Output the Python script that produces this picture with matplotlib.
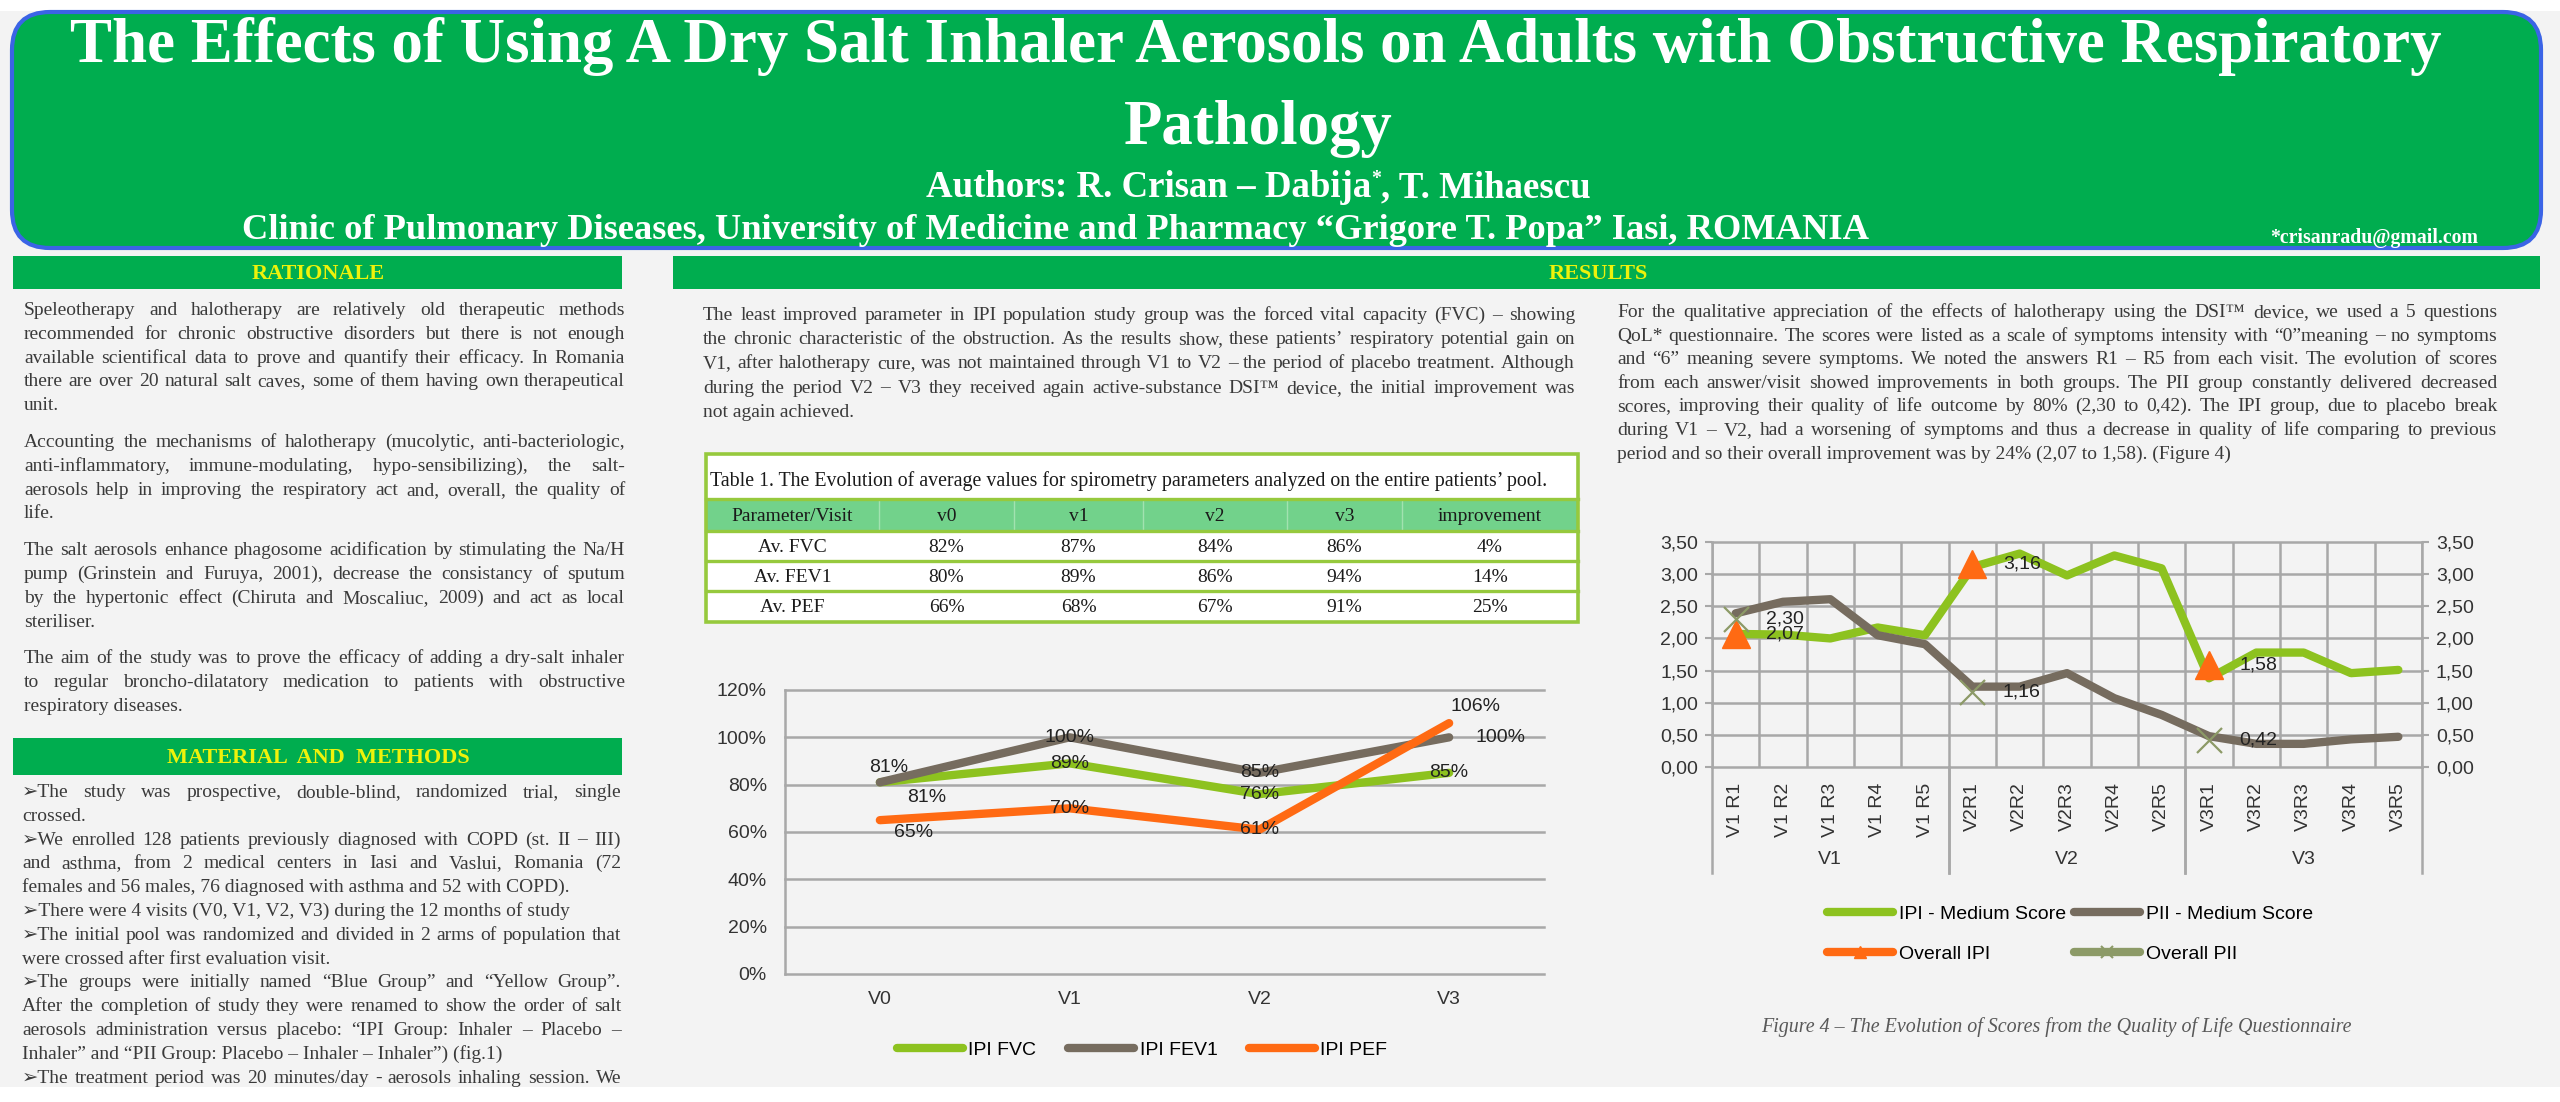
import matplotlib
matplotlib.use('Agg')
import matplotlib.pyplot as plt
import matplotlib.transforms as mtransforms
from matplotlib.patches import FancyBboxPatch, Rectangle
from matplotlib.lines import Line2D
from matplotlib.ticker import FuncFormatter

# ---- data -------------------------------------------------------------
visits = ['V0', 'V1', 'V2', 'V3']
ipi_fvc = [81, 89, 76, 85]
ipi_fev1 = [81, 100, 85, 100]
ipi_pef = [65, 70, 61, 106]

table_cols = ['Parameter/Visit', 'v0', 'v1', 'v2', 'v3', 'improvement']
table_rows = ['Av. FVC', 'Av. FEV1', 'Av. PEF']
table_vals = [['82%', '87%', '84%', '86%', '4%'],
              ['80%', '89%', '86%', '94%', '14%'],
              ['66%', '68%', '67%', '91%', '25%']]

qol_labels = ['V1 R1', 'V1 R2', 'V1 R3', 'V1 R4', 'V1 R5',
              'V2R1', 'V2R2', 'V2R3', 'V2R4', 'V2R5',
              'V3R1', 'V3R2', 'V3R3', 'V3R4', 'V3R5']
qol_groups = ['V1', 'V2', 'V3']
ipi_score = [2.07, 2.06, 2.00, 2.17, 2.05, 3.11, 3.32, 2.98, 3.29, 3.09,
             1.38, 1.78, 1.78, 1.46, 1.51]
pii_score = [2.39, 2.57, 2.61, 2.05, 1.91, 1.25, 1.25, 1.46, 1.07, 0.81,
             0.48, 0.36, 0.36, 0.43, 0.47]
overall_ipi = [2.07, 3.16, 1.58]
overall_pii = [2.30, 1.16, 0.42]

rationale = [
    ["Speleotherapy and halotherapy are relatively old therapeutic methods",
     "recommended for chronic obstructive disorders but there is not enough",
     "available scientifical data to prove and quantify their efficacy. In Romania",
     "there are over 20 natural salt caves, some of them having own therapeutical",
     "unit."],
    ["Accounting the mechanisms of halotherapy (mucolytic, anti-bacteriologic,",
     "anti-inflammatory, immune-modulating, hypo-sensibilizing), the salt-",
     "aerosols help in improving the respiratory act and, overall, the quality of",
     "life."],
    ["The salt aerosols enhance phagosome acidification by stimulating the Na/H",
     "pump (Grinstein and Furuya, 2001), decrease the consistancy of sputum",
     "by the hypertonic effect (Chiruta and Moscaliuc, 2009) and act as local",
     "steriliser."],
    ["The aim of the study was to prove the efficacy of adding a dry-salt inhaler",
     "to regular broncho-dilatatory medication to patients with obstructive",
     "respiratory diseases."],
]
methods = [
    ["➢The study was prospective, double-blind, randomized trial, single",
     "crossed."],
    ["➢We enrolled 128 patients previously diagnosed with COPD (st. II – III)",
     "and asthma, from 2 medical centers in Iasi and Vaslui, Romania (72",
     "females and 56 males, 76 diagnosed with asthma and 52 with COPD)."],
    ["➢There were 4 visits (V0, V1, V2, V3) during the 12 months of study"],
    ["➢The initial pool was randomized and divided in 2 arms of population that",
     "were crossed after first evaluation visit."],
    ["➢The groups were initially named “Blue Group” and “Yellow Group”.",
     "After the completion of study they were renamed to show the order of salt",
     "aerosols administration versus placebo: “IPI Group: Inhaler – Placebo –",
     "Inhaler” and “PII Group: Placebo – Inhaler – Inhaler”) (fig.1)"],
    ["➢The treatment period was 20 minutes/day - aerosols inhaling session. We"],
]
results_mid = [
    ["The least improved parameter in IPI population study group was the forced vital capacity (FVC) – showing",
     "the chronic characteristic of the obstruction. As the results show, these patients’ respiratory potential gain on",
     "V1, after halotherapy cure, was not maintained through V1 to V2 – the period of placebo treatment. Although",
     "during the period V2 – V3 they received again active-substance DSI™ device, the initial improvement was",
     "not again achieved."],
]
results_right = [
    ["For the qualitative appreciation of the effects of halotherapy using the DSI™ device, we used a 5 questions",
     "QoL* questionnaire. The scores were listed as a scale of symptoms intensity with “0”meaning – no symptoms",
     "and “6” meaning severe symptoms.  We noted the answers R1 – R5 from each visit. The evolution of scores",
     "from each answer/visit showed improvements in both groups. The PII group constantly delivered decreased",
     "scores, improving their quality of life outcome by  80% (2,30 to 0,42). The IPI group, due to placebo break",
     "during V1 – V2, had a worsening of symptoms and thus a decrease in quality of life comparing to previous",
     "period and so their overall improvement was by 24% (2,07 to 1,58). (Figure 4)"],
]

# ---- styles -----------------------------------------------------------
W, H = 2560, 1102
SERIF = ['Liberation Serif', 'DejaVu Sans']
SANS = ['Liberation Sans', 'DejaVu Sans']
GREEN_BAR = '#00AD4F'
YELLOW = '#EEF20B'
TXT = '#3A3A3A'
C_GREEN = '#8DC21F'
C_GREY = '#766C5F'
C_ORANGE = '#FF6A13'
C_OLIVE = '#8C9A67'
GRID = '#A8A8A8'

plt.rcParams['font.family'] = SANS

fig = plt.figure(figsize=(W / 100, H / 100), dpi=100, facecolor='#F3F3F3')
bg = fig.add_axes([0, 0, 1, 1])
bg.set_xlim(0, W)
bg.set_ylim(H, 0)
bg.axis('off')
R = fig.canvas.get_renderer()


def width(t):
    return t.get_window_extent(R).width


def fit(t, target):
    t.set_fontsize(t.get_fontsize() * target / width(t))


def fax(x0, y0, x1, y1):
    a = fig.add_axes([x0 / W, 1 - y1 / H, (x1 - x0) / W, (y1 - y0) / H])
    a.patch.set_alpha(0)
    return a


def block(x0, x1, y0, dy, paras, gap=0, size=14, color=TXT, cont=False):
    y = y0
    for pi, lines in enumerate(paras):
        for li, line in enumerate(lines):
            last = li == len(lines) - 1 and not (cont and pi == len(paras) - 1)
            kw = dict(size=size, color=color, family=SERIF, va='baseline')
            if last:
                bg.text(x0, y, line, **kw)
            else:
                words = line.split()
                ts = [bg.text(x0, y, w, **kw) for w in words]
                ws = [width(t) for t in ts]
                g = (x1 - x0 - sum(ws)) / (len(ws) - 1)
                x = x0
                for t, w in zip(ts, ws):
                    t.set_x(x)
                    x += w + g
            y += dy
        y += gap


# ---- header -------------------------------------------------------------
bg.add_patch(Rectangle((0, 0), W, 11, fc='white', ec='none'))
bg.add_patch(FancyBboxPatch((12, 12), 2529, 236,
                            boxstyle='round,pad=0,rounding_size=38',
                            fc=GREEN_BAR, ec='#3B64E6', lw=3))
hkw = dict(family=SERIF, weight='bold', color='white', va='baseline', ha='center')
t1 = bg.text(1256, 62, 'The Effects of Using A Dry Salt Inhaler Aerosols on Adults '
             'with Obstructive Respiratory', size=44, **hkw)
fit(t1, 2375)
bg.text(1258, 144, 'Pathology', size=t1.get_fontsize(), **hkw)

akw = dict(family=SERIF, weight='bold', color='white', va='baseline')
a1 = bg.text(0, 197, 'Authors: R. Crisan – Dabija', size=26, **akw)
a2 = bg.text(0, 184, '*', size=14, **akw)
a3 = bg.text(0, 197, ', T. Mihaescu', size=26, **akw)
tot = width(a1) + width(a2) + width(a3)
k = 666 / tot
for t in (a1, a2, a3):
    t.set_fontsize(t.get_fontsize() * k)
x = 1259 - 333
for t in (a1, a2, a3):
    t.set_x(x)
    x += width(t)

tc = bg.text(1056, 239, 'Clinic of Pulmonary Diseases, University of Medicine and '
             'Pharmacy “Grigore T. Popa” Iasi, ROMANIA', size=26, **hkw)
fit(tc, 1628)
te = bg.text(2374, 243, '*crisanradu@gmail.com', size=10, **hkw)
fit(te, 209)

# ---- section bars -------------------------------------------------------
skw = dict(family=SERIF, weight='bold', color=YELLOW, ha='center', va='center', size=16)
bg.add_patch(Rectangle((13, 256), 609, 33, fc=GREEN_BAR, ec='none'))
bg.text(318, 274, 'RATIONALE', **skw)
bg.add_patch(Rectangle((673, 256), 1867, 33, fc=GREEN_BAR, ec='none'))
bg.text(1598, 274, 'RESULTS', **skw)
bg.add_patch(Rectangle((13, 738), 609, 37, fc=GREEN_BAR, ec='none'))
bg.text(318, 758, 'MATERIAL  AND  METHODS', **skw)

# ---- body text ----------------------------------------------------------
block(24, 625, 315, 23.8, rationale, gap=13)
block(22, 621, 797, 23.8, methods, cont=True)
block(703, 1575, 320, 24.2, results_mid)
block(1617, 2497, 317, 23.6, results_right)

# ---- table --------------------------------------------------------------
TB = '#96C93D'
tx0, tx1 = 706, 1578
ty = [454, 499, 531, 561, 591, 622]
col_edges = [706, 879, 1014, 1143, 1287, 1402, 1578]
bg.add_patch(Rectangle((tx0, ty[0]), tx1 - tx0, ty[-1] - ty[0], fc='white', ec='none'))
bg.add_patch(Rectangle((tx0, ty[1]), tx1 - tx0, ty[2] - ty[1], fc='#72D28B', ec='none'))
for xe in col_edges[1:-1]:
    bg.plot([xe, xe], [ty[1], ty[2]], color='#A2E2B0', lw=1)
for yy in ty[1:-1]:
    bg.plot([tx0, tx1], [yy, yy], color=TB, lw=2.4)
bg.add_patch(Rectangle((tx0, ty[0]), tx1 - tx0, ty[-1] - ty[0], fc='none', ec=TB, lw=2.6))
tt = bg.text(710, 486, 'Table 1. The Evolution of average values for spirometry '
             'parameters analyzed on the entire patients’ pool.',
             family=SERIF, size=14, color='#1A1A1A', va='baseline')
fit(tt, 836)
centers = [(col_edges[i] + col_edges[i + 1]) / 2 for i in range(len(col_edges) - 1)]
for c, name in zip(centers, table_cols):
    bg.text(c, (ty[1] + ty[2]) / 2 + 6, name, family=SERIF, size=14,
            color='#1A1A1A', ha='center', va='baseline')
for r, (rname, vals) in enumerate(zip(table_rows, table_vals)):
    yc = (ty[2 + r] + ty[3 + r]) / 2 + 6
    for c, v in zip(centers, [rname] + vals):
        bg.text(c, yc, v, family=SERIF, size=14, color='#1A1A1A',
                ha='center', va='baseline')

# ---- spirometry line chart ------------------------------------------------
ax1 = fax(785, 690, 1544, 974)
xs = list(range(len(visits)))
series1 = [(ipi_fvc, C_GREEN, 'IPI FVC'), (ipi_fev1, C_GREY, 'IPI FEV1'),
           (ipi_pef, C_ORANGE, 'IPI PEF')]
offsets1 = [[(34, -11), (0, 0), (0, 0), (0, 0)],
            [(6, 11), (0, 0), (0, 0), (37, 0)],
            [(24, -9), (0, 0), (0, 0), (19, 12)]]
lines1 = []
for (vals, col, lab), offs in zip(series1, offsets1):
    ln, = ax1.plot(xs, vals, color=col, lw=6, solid_capstyle='round',
                   solid_joinstyle='round', label=lab)
    lines1.append(ln)
    for xi, v, off in zip(xs, vals, offs):
        ax1.annotate(f'{v}%', (xi, v), xytext=off, textcoords='offset points',
                     ha='center', va='center', fontsize=14, color='#222222')
ax1.set_xlim(-0.5, len(visits) - 0.5)
ax1.set_ylim(0, 120)
ax1.set_yticks([0, 20, 40, 60, 80, 100, 120])
ax1.yaxis.set_major_formatter(FuncFormatter(lambda v, p: f'{v:.0f}%'))
ax1.set_xticks(xs)
ax1.set_xticklabels(visits)
ax1.grid(axis='y', color=GRID, lw=1.8)
for gl in ax1.yaxis.get_gridlines():
    gl.set_clip_on(False)
ax1.set_axisbelow(True)
for s in ('top', 'right', 'bottom'):
    ax1.spines[s].set_visible(False)
ax1.spines['left'].set_color(GRID)
ax1.spines['left'].set_linewidth(1.8)
ax1.tick_params(axis='both', length=0, labelsize=14, colors='#333333')
ax1.tick_params(axis='y', pad=13)
ax1.tick_params(axis='x', pad=12)
ax1.legend(handles=lines1, loc='center', bbox_to_anchor=(1142 / W, 1 - 1050 / H),
           bbox_transform=fig.transFigure, ncol=3, frameon=False, fontsize=14,
           handlelength=3.4, handletextpad=0.3, columnspacing=1.6)

# ---- quality of life chart ------------------------------------------------
ax2 = fax(1712, 542, 2422, 767)
xq = list(range(len(qol_labels)))
l_ipi, = ax2.plot(xq, ipi_score, color=C_GREEN, lw=6, solid_capstyle='round',
                  solid_joinstyle='round', label='IPI - Medium Score')
l_pii, = ax2.plot(xq, pii_score, color=C_GREY, lw=6, solid_capstyle='round',
                  solid_joinstyle='round', label='PII - Medium Score')
first = [i for i, l in enumerate(qol_labels) if l.replace(' ', '').endswith('R1')]
ax2.plot(first, overall_ipi, ls='none', marker='^', ms=20, color=C_ORANGE, zorder=4)
ax2.plot(first, overall_pii, ls='none', marker='x', ms=18, mew=1.6, color=C_OLIVE, zorder=5)
for vals in (overall_ipi, overall_pii):
    for xi, v in zip(first, vals):
        ax2.annotate(f'{v:.2f}'.replace('.', ','), (xi, v), xytext=(22, 0),
                     textcoords='offset points', ha='left', va='center',
                     fontsize=14, color='#222222', zorder=6)
ax2.set_xlim(-0.5, len(qol_labels) - 0.5)
ax2.set_ylim(0, 3.5)
ax2.set_yticks([0, 0.5, 1, 1.5, 2, 2.5, 3, 3.5])
ax2.yaxis.set_major_formatter(FuncFormatter(lambda v, p: f'{v:.2f}'.replace('.', ',')))
ax2.set_xticks(xq)
ax2.set_xticklabels(qol_labels, rotation=90)
ax2.set_xticks([i - 0.5 for i in range(len(qol_labels) + 1)], minor=True)
ax2.grid(axis='y', which='major', color=GRID, lw=1.8)
ax2.grid(axis='x', which='minor', color=GRID, lw=1.8)
for gl in ax2.yaxis.get_gridlines():
    gl.set_clip_on(False)
ax2.set_axisbelow(True)
ax2.spines['top'].set_visible(False)
ax2.spines['bottom'].set_visible(False)
for s in ('left', 'right'):
    ax2.spines[s].set_color(GRID)
    ax2.spines[s].set_linewidth(1.8)
ax2.tick_params(axis='y', which='major', left=True, right=True, labelleft=True,
                labelright=True, length=5, width=1.5, color=GRID, pad=5,
                labelsize=14, labelcolor='#333333')
ax2.tick_params(axis='x', which='both', length=0, labelsize=14,
                labelcolor='#333333', pad=11)
trans = mtransforms.blended_transform_factory(ax2.transData, ax2.transAxes)
for g in qol_groups:
    idx = [i for i, l in enumerate(qol_labels) if l.startswith(g)]
    ax2.text((idx[0] + idx[-1]) / 2, -0.413, g, transform=trans, ha='center',
             va='center', fontsize=14, color='#333333')
    for xe in (idx[0] - 0.5, idx[-1] + 0.5):
        ax2.plot([xe, xe], [0, -0.47], transform=trans, color=GRID, lw=1.8,
                 clip_on=False)
h_oipi = Line2D([], [], color=C_ORANGE, lw=6, marker='^', ms=9,
                solid_capstyle='round', label='Overall IPI')
h_opii = Line2D([], [], color=C_OLIVE, lw=6, marker='x', ms=9, mew=1.5,
                solid_capstyle='round', label='Overall PII')
ax2.legend(handles=[l_ipi, h_oipi, l_pii, h_opii], loc='center',
           bbox_to_anchor=(2070 / W, 1 - 934 / H), bbox_transform=fig.transFigure,
           ncol=2, frameon=False, fontsize=14, handlelength=3.4,
           handletextpad=0.3, columnspacing=0.4, labelspacing=1.15)

cap = bg.text(2056, 1032, 'Figure 4 – The Evolution of Scores from the Quality of Life Questionnaire',
              family=SERIF, style='italic', size=14, color='#595959',
              ha='center', va='baseline')
fit(cap, 591)

# white strip at the bottom edge of the poster
bg.add_patch(Rectangle((0, 1087), W, 15, fc='white', ec='none', zorder=10))

fig.savefig('out.png', dpi=100, facecolor=fig.get_facecolor())
